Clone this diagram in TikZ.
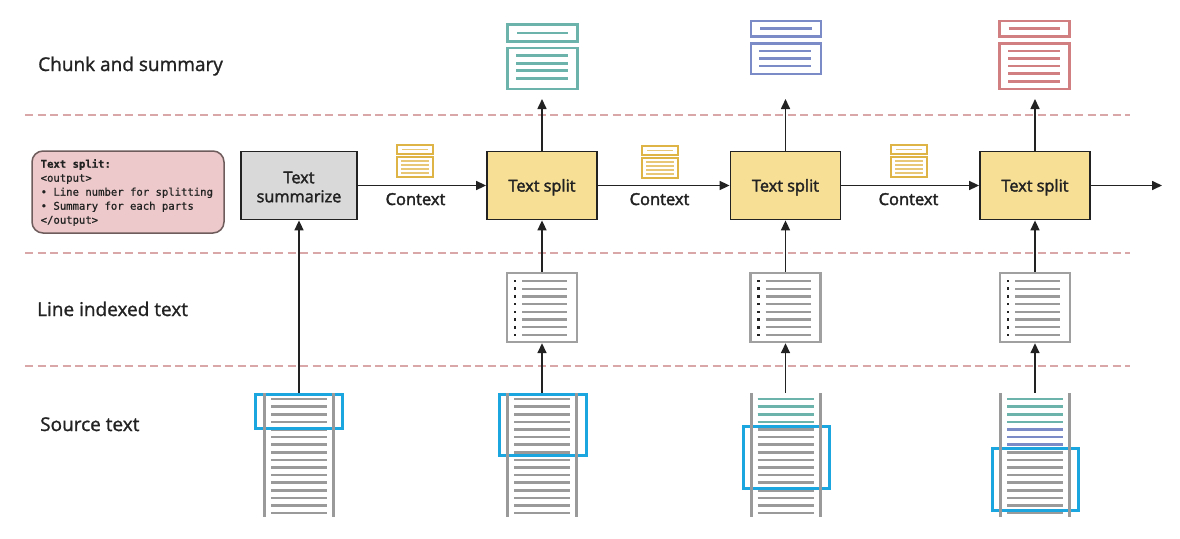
\documentclass[tikz,border=0pt]{standalone}
\usepackage{fontspec}
\setmainfont{Open Sans}
\newfontfamily\lblfont{Open Sans}[FakeBold=1.2]
\newfontfamily\boxfont{Open Sans}[FakeBold=2.2]
\newfontfamily\monofont{DejaVu Sans Mono}[FakeBold=0.8]
\usetikzlibrary{arrows.meta}
\definecolor{txt}{HTML}{222222}
\definecolor{sepc}{HTML}{D9A7A7}
\definecolor{pinkf}{HTML}{EDC9CB}
\definecolor{pinkd}{HTML}{6E5B5B}
\definecolor{greyf}{HTML}{D9D9D9}
\definecolor{yelf}{HTML}{F7DF95}
\definecolor{tealc}{HTML}{6BB3AB}
\definecolor{bluec}{HTML}{7B8BC8}
\definecolor{redc}{HTML}{D17F80}
\definecolor{goldc}{HTML}{DFB446}
\definecolor{goldl}{HTML}{E8C877}
\definecolor{hlc}{HTML}{1BA6DF}
\definecolor{stk}{HTML}{9A9A9A}
\definecolor{idxb}{HTML}{A0A0A0}
\newcommand\ctxicon[2]{%
  \begin{scope}[shift={(#1,#2)}]
    \draw[goldc, line width=1.6pt] (0,0) rectangle (36,9);
    \draw[goldl, line width=1.6pt] (5,4.5) -- (31,4.5);
    \draw[goldc, line width=1.6pt] (0,12) rectangle (36,32);
    \foreach \yy in {16,20,24,28} {\draw[goldl, line width=1.6pt] (4,\yy) -- (32,\yy);}
  \end{scope}}
\begin{document}
\begin{tikzpicture}[x=1pt,y=-1pt,
  sep/.style={draw=sepc, line width=1.8pt, dash pattern=on 8pt off 4.5pt},
  lbl/.style={font=\lblfont\fontsize{19}{22}\selectfont, text=txt, anchor=base west, inner sep=0pt},
  proc/.style={draw=txt, line width=1.8pt, minimum width=110pt, minimum height=68pt, inner sep=0pt},
  ptxt/.style={font=\boxfont\fontsize{16.3}{19}\selectfont, text=txt, align=center, inner sep=0pt},
  ctxlbl/.style={font=\boxfont\fontsize{16.5}{19}\selectfont, text=txt, anchor=base, inner sep=0pt},
  arr/.style={draw=txt, line width=1.6pt, -{Triangle[length=10pt,width=9pt]}},
  idx/.style={draw=idxb, line width=2.4pt, minimum width=70pt, minimum height=69pt, inner sep=0pt},
  stkbox/.style={minimum width=69pt, minimum height=124pt, inner sep=0pt},
  stv/.style={draw=stk, line width=3pt},
  sth/.style={line width=2.6pt},
  hl/.style={draw=hlc, line width=3pt},
  chk/.style={line width=2.6pt}
]
\useasboundingbox (0,0) rectangle (1180,538);

% separators
\draw[sep] (25,115) -- (1130,115);
\draw[sep] (25,253) -- (1130,253);
\draw[sep] (25,366) -- (1130,366);

% row labels
\node[lbl] (l1) at (38,71) {Chunk and summary};
\node[lbl] (l2) at (37,316) {Line indexed text};
\node[lbl] (l3) at (40,431) {Source text};

% note box
\node[draw=pinkd, fill=pinkf, line width=1.5pt, rounded corners=11pt, minimum width=192pt,
  minimum height=82pt, inner sep=0pt] (note) at (128,192) {};
\node[align=left, inner sep=0pt, anchor=west, font=\monofont\fontsize{10.6}{14}\selectfont, text=txt]
  (notetxt) at (40.5,192.5)
  {\textbf{Text split:}\\<output>\\• Line number for splitting\\• Summary for each parts\\</output>};

% process boxes
\node[proc, fill=greyf, minimum width=116pt] (sum) at (299,185.5) {};
\node[ptxt, yshift=-1.5pt] (sumtxt) at (sum.center) {Text\\summarize};
\node[proc, fill=yelf] (ts1) at (542,185.5) {};
\node[proc, fill=yelf] (ts2) at (785.5,185.5) {};
\node[proc, fill=yelf] (ts3) at (1035,185.5) {};
\foreach \b in {ts1,ts2,ts3} {\node[ptxt, anchor=base] at ([yshift=-6pt]\b.center) {Text split};}
\coordinate (outend) at (1162,185.5);

% horizontal arrows
\draw[arr] (sum.east) -- (ts1.west);
\draw[arr] (ts1.east) -- (ts2.west);
\draw[arr] (ts2.east) -- (ts3.west);
\draw[arr] (ts3.east) -- (outend);
\node[ctxlbl] (c1) at (415.5,205) {Context};
\node[ctxlbl] (c2) at (659.5,205) {Context};
\node[ctxlbl] (c3) at (908.5,205) {Context};
\ctxicon{397}{145}
\ctxicon{642}{146}
\ctxicon{891}{145}

% chunk icons
\draw[tealc, chk] (507.5,24.5) rectangle (577.5,41.5);
\draw[tealc, chk] (517,33) -- (568,33);
\draw[tealc, chk] (507.5,48) rectangle (577.5,89);
\foreach \yy in {55.7,63.2,70.7,78.2} {\draw[tealc, chk] (516,\yy) -- (568,\yy);}
\draw[bluec, chk] (751,21) rectangle (821,36.5);
\draw[bluec, chk] (760,28.5) -- (811.5,28.5);
\draw[bluec, chk] (751,43.5) rectangle (821,74);
\foreach \yy in {51,58.5,66} {\draw[bluec, chk] (759,\yy) -- (811,\yy);}
\draw[redc, chk] (999.5,21) rectangle (1069.5,36.5);
\draw[redc, chk] (1008.5,28.5) -- (1060,28.5);
\draw[redc, chk] (999.5,43.5) rectangle (1069.5,89);
\foreach \yy in {51,58.5,66,73.7,81.2} {\draw[redc, chk] (1008,\yy) -- (1060,\yy);}
\coordinate (up1) at (542,99);
\coordinate (up2) at (785.5,99);
\coordinate (up3) at (1035,99);
\draw[arr] (ts1.north) -- (up1);
\draw[arr] (ts2.north) -- (up2);
\draw[arr] (ts3.north) -- (up3);

% line indexed icons
\foreach \cx/\nm in {542/ix1, 785.5/ix2, 1035/ix3} {
  \node[idx] (\nm) at (\cx,307.5) {};
  \foreach \i in {0,...,7} {
    \fill[txt] (\cx-28.3,279.7+\i*7.7) rectangle ++(2.6,2.6);
    \draw[stk, line width=2.4pt] (\cx-20,281+\i*7.7) -- (\cx+25,281+\i*7.7);
  }
}
\draw[arr] (ix1.north) -- (ts1.south);
\draw[arr] (ix2.north) -- (ts2.south);
\draw[arr] (ix3.north) -- (ts3.south);

% source stacks
\foreach \L/\nm in {264.5/src1, 507.5/src2, 751/src3, 1000.5/src4} {
  \node[stkbox] (\nm) at (\L+34.5,455) {};
  \foreach \i in {0,...,15} {\draw[stk, sth] (\L+6.5,399+\i*7.6) -- (\L+62.5,399+\i*7.6);}
}
% coloured lines
\foreach \i in {0,...,3} {
  \draw[tealc, sth] (751+6.5,399+\i*7.6) -- (751+62.5,399+\i*7.6);
  \draw[tealc, sth] (1000.5+6.5,399+\i*7.6) -- (1000.5+62.5,399+\i*7.6);
}
\foreach \i in {4,...,6} {
  \draw[bluec, sth] (1000.5+6.5,399+\i*7.6) -- (1000.5+62.5,399+\i*7.6);
}
% highlights
\draw[hl] (255,394) rectangle (342,428);
\draw[hl] (499,394) rectangle (586,455);
\draw[hl] (743,426) rectangle (829,488);
\draw[hl] (992,448) rectangle (1078,510);
% vertical rails
\foreach \L in {264.5, 507.5, 751, 1000.5} {
  \draw[stv] (\L,393) -- (\L,517);
  \draw[stv] (\L+69,393) -- (\L+69,517);
}

% upward arrows from sources
\draw[arr] (src1.north) -- (sum.south);
\draw[arr] (src2.north) -- (ix1.south);
\draw[arr] (src3.north) -- (ix2.south);
\draw[arr] (src4.north) -- (ix3.south);
\end{tikzpicture}
\end{document}
